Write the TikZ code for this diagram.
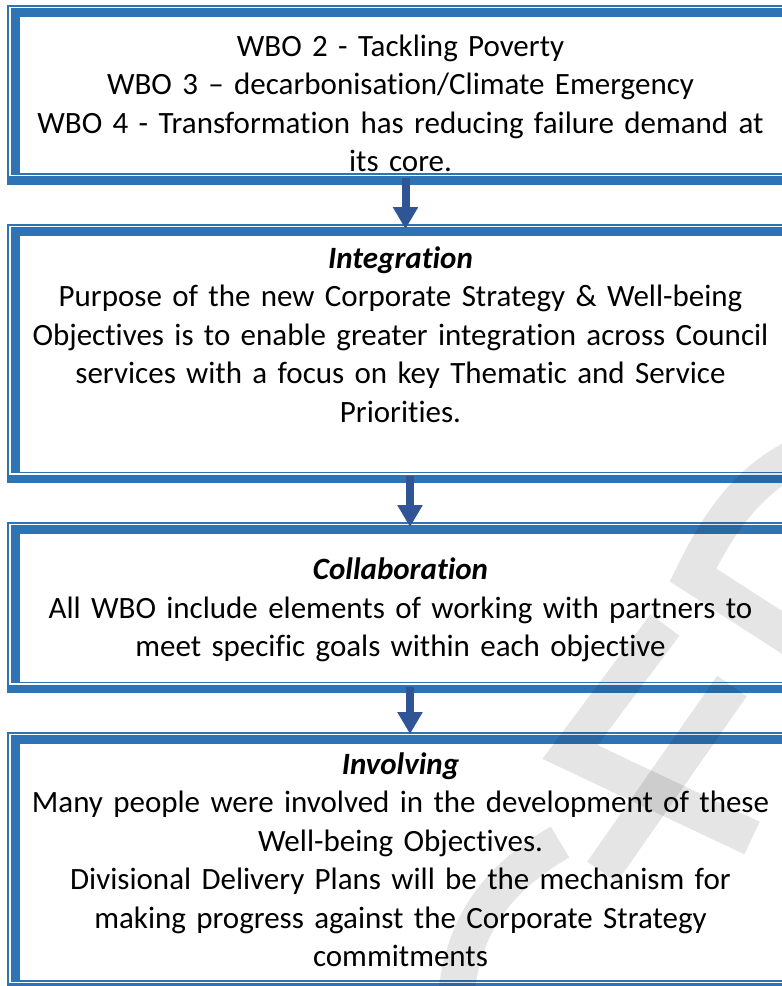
\documentclass[tikz,border=0pt]{standalone}
\usepackage{fontspec}
\setmainfont{Carlito}[Ligatures={NoCommon,NoContextual}]
\usetikzlibrary{arrows.meta}
\definecolor{bordblue}{HTML}{2E74B5}
\definecolor{arrblue}{HTML}{2F5597}
\newcommand\wbframe[2]{%
  \fill[bord] (7,#1) rectangle (782,#1+1.6);
  \fill[bord] (7,#1) rectangle (8.6,#2);
  \fill[bord] (11,#1+3.2) rectangle (782,#1+12);
  \fill[bord] (11,#1+3.2) rectangle (20,#2-9.6);
  \fill[bord] (11,#2-11.2) rectangle (782,#2-9.6);
  \fill[bord] (7,#2-8.5) rectangle (782,#2);
}
\tikzset{
  bord/.style={fill=bordblue},
  txt/.style={anchor=base, text width=770pt, align=center, inner sep=0pt,
    font=\fontsize{31}{38.5}\selectfont},
  flowarrow/.style={draw=arrblue, line width=8pt,
    -{Triangle[width=24pt,length=22pt]}},
  wmark/.style={draw=black, opacity=0.1, line width=36pt, line join=miter}
}
\begin{document}
\begin{tikzpicture}[x=1pt,y=-1pt]
\fill[white] (0,0) rectangle (782,986);
\useasboundingbox (0,0) rectangle (782,986);

\wbframe{5}{184.5}
\wbframe{224}{483}
\wbframe{522}{693}
\wbframe{732}{991.5}

\node[txt] (t1) at (400.5,56) {WBO 2 - Tackling Poverty\\WBO 3 – decarbonisation/Climate Emergency\\WBO 4 - Transformation has reducing failure demand at\\its core.};
\node[txt] (t2) at (400.5,268) {\textbf{\textit{Integration}}\\Purpose of the new Corporate Strategy \& Well-being\\Objectives is to enable greater integration across Council\\services with a focus on key Thematic and Service\\Priorities.};
\node[txt] (t3) at (400.5,579.5) {\textbf{\textit{Collaboration}}\\All WBO include elements of working with partners to\\meet specific goals within each objective};
\node[txt] (t4) at (400.5,774) {\textbf{\textit{Involving}}\\Many people were involved in the development of these\\Well-being Objectives.\\Divisional Delivery Plans will be the mechanism for\\making progress against the Corporate Strategy\\commitments};

\coordinate (a1s) at (405.5,178);
\coordinate (a1e) at (405.5,229);
\coordinate (a2s) at (410,476);
\coordinate (a2e) at (410,527);
\coordinate (a3s) at (410,687);
\coordinate (a3e) at (410,734);
\draw[flowarrow] (a1s) -- (a1e);
\draw[flowarrow] (a2s) -- (a2e);
\draw[flowarrow] (a3s) -- (a3e);

% watermark
\draw[wmark] (800,455) .. controls (745,480) and (715,530) .. (693,575) -- (800,644);
\draw[wmark] (665,625) -- (570,752) -- (752,838);
\draw[wmark] (732,686) -- (602,872);
\draw[wmark] (456,995) .. controls (464,925) and (495,880) .. (560,842);
\end{tikzpicture}
\end{document}
